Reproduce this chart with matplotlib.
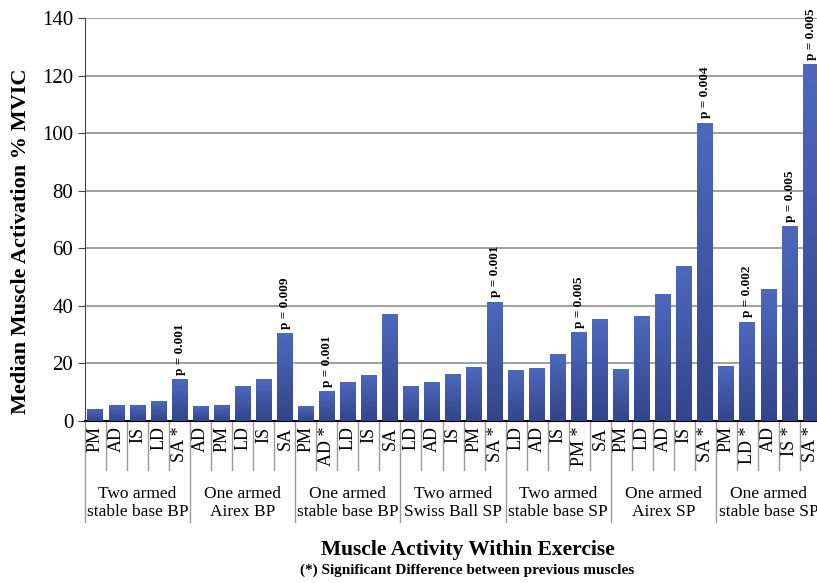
import matplotlib
matplotlib.use("Agg")
import matplotlib.pyplot as plt
import matplotlib.transforms as mtransforms
import numpy as np

# data
groups = ["Two armed\nstable base BP", "One armed\nAirex BP", "One armed\nstable base BP",
          "Two armed\nSwiss Ball SP", "Two armed\nstable base SP", "One armed\nAirex SP",
          "One armed\nstable base SP"]
muscles = [
    ["PM", "AD", "IS", "LD", "SA *"],
    ["AD", "PM", "LD", "IS", "SA"],
    ["PM", "AD *", "LD", "IS", "SA"],
    ["LD", "AD", "IS", "PM", "SA *"],
    ["LD", "AD", "IS", "PM *", "SA"],
    ["PM", "LD", "AD", "IS", "SA *"],
    ["PM", "LD *", "AD", "IS *", "SA *"],
]
values = [
    [4.3, 5.7, 5.7, 6.9, 14.5],
    [5.2, 5.7, 12.0, 14.5, 30.5],
    [5.2, 10.4, 13.5, 16.0, 37.3],
    [12.3, 13.7, 16.2, 18.7, 41.5],
    [17.7, 18.3, 23.4, 30.9, 35.5],
    [18.0, 36.4, 44.0, 53.9, 103.6],
    [19.0, 34.5, 45.7, 67.6, 124.0],
]
# p-values shown above bars (index of bar in the flat list)
p_labels = {4: "p = 0.001", 9: "p = 0.009", 11: "p = 0.001", 19: "p = 0.001",
            23: "p = 0.005", 29: "p = 0.004", 31: "p = 0.002", 33: "p = 0.005",
            34: "p = 0.005"}

labels = [m for g in muscles for m in g]
vals = [v for g in values for v in g]
x = np.arange(len(vals))

plt.rcParams["font.family"] = ["Liberation Serif", "DejaVu Serif"]

fig = plt.figure(figsize=(8.17, 5.83), dpi=100)
ax = fig.add_axes([0.104, 0.278, 0.901, 0.691])

bars = ax.bar(x, vals, width=0.76, color="#4259a6", zorder=2)

# vertical gradient inside each bar (lighter top, darker bottom)
grad = np.linspace(0, 1, 100).reshape(-1, 1)
cmap = matplotlib.colors.LinearSegmentedColormap.from_list("g", ["#33458a", "#4d68bd"])
for b in bars:
    x0, w, h = b.get_x(), b.get_width(), b.get_height()
    im = ax.imshow(grad, cmap=cmap, origin="lower", aspect="auto",
                   extent=[x0, x0 + w, 0, h], zorder=3)
    im.set_clip_path(b)

ax.set_xlim(-0.5, len(vals) - 0.5)
ax.set_ylim(0, 140)
ax.set_yticks(range(0, 141, 20))
ax.tick_params(axis="y", labelsize=15, length=5, direction="out", color="#444444")
ax.set_xticks(x)
ax.set_xticklabels(labels, rotation=90, fontsize=13)
ax.tick_params(axis="x", length=0, pad=4)

ax.yaxis.grid(True, color="#a0a0a0", linewidth=1.4)
ax.set_axisbelow(True)
for s in ["top", "right"]:
    ax.spines[s].set_visible(False)
ax.spines["left"].set_color("#444444")
ax.spines["bottom"].set_color("black")
ax.spines["bottom"].set_linewidth(1.5)

for i, t in p_labels.items():
    ax.text(x[i], vals[i] + 1.5, t, rotation=90, ha="center", va="bottom",
            fontsize=9.5, fontweight="bold")

# separators below the axis
trans = mtransforms.blended_transform_factory(ax.transData, ax.transAxes)
for k in range(len(vals) + 1):
    edge = k - 0.5
    low = -0.25 if k % 5 == 0 else -0.122
    ax.plot([edge, edge], [0, low], transform=trans, color="#9a9a9a",
            linewidth=1, clip_on=False)

for gi, g in enumerate(groups):
    ax.text(gi * 5 + 2, -0.204, g, transform=trans, ha="center", va="center",
            fontsize=12.5, linespacing=1.15)

ax.set_ylabel("Median Muscle Activation % MVIC", fontsize=16, fontweight="bold")
ax.yaxis.set_label_coords(-0.073, 0.447)
fig.text(0.572, 0.057, "Muscle Activity Within Exercise", ha="center", va="center",
         fontsize=15.5, fontweight="bold")
fig.text(0.572, 0.022, "(*) Significant Difference between previous muscles", ha="center",
         va="center", fontsize=11, fontweight="bold")

fig.savefig("out.png", dpi=100)
